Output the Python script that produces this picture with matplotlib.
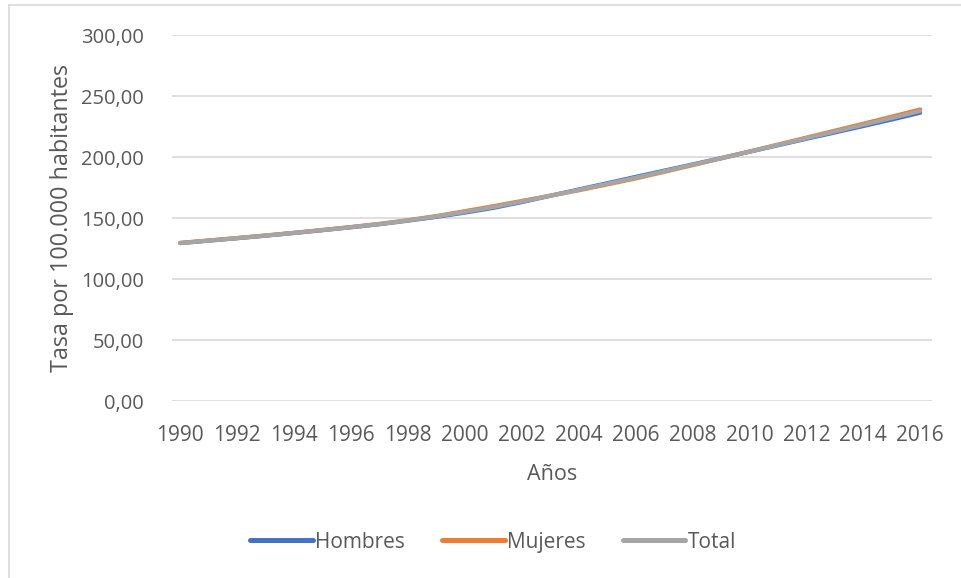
import matplotlib.pyplot as plt
from matplotlib.ticker import FuncFormatter, MultipleLocator

# tasa por 100.000 habitantes, 1990-2016
anios = list(range(1990, 2017))
hombres = [129.4, 131.4, 133.4, 135.5, 137.7, 140.0, 142.4, 144.9, 147.8, 150.9,
           154.4, 158.3, 163.0, 168.2, 173.4, 178.5, 183.7, 188.8, 193.9, 199.1,
           204.3, 209.6, 214.9, 220.1, 225.4, 230.7, 236.3]
mujeres = [129.6, 131.6, 133.6, 135.7, 137.9, 140.2, 142.6, 145.2, 148.2, 151.6,
           155.6, 159.7, 164.0, 168.3, 172.7, 177.5, 182.4, 187.8, 193.3, 198.8,
           204.5, 210.2, 215.9, 221.6, 227.3, 233.1, 239.0]
total = [129.5, 131.5, 133.5, 135.6, 137.8, 140.1, 142.5, 145.0, 148.0, 151.3,
         155.0, 159.0, 163.5, 168.2, 173.0, 178.0, 183.0, 188.3, 193.6, 199.0,
         204.4, 209.9, 215.4, 220.9, 226.4, 232.0, 237.7]

series = [("Hombres", hombres, "#4472C4"),
          ("Mujeres", mujeres, "#ED7D31"),
          ("Total", total, "#A5A5A5")]

plt.rcParams['font.family'] = ['Open Sans', 'DejaVu Sans']
txt = '#595959'

fig = plt.figure(figsize=(9.61, 5.78), dpi=100)
ax = fig.add_axes([0.179, 0.3062, 0.791, 0.6332])

for nombre, vals, color in series:
    ax.plot(anios, vals, color=color, lw=3.0, solid_capstyle='round', label=nombre)

ax.set_ylim(0, 300)
ax.set_xlim(1989.72, 2016.42)
ax.yaxis.set_major_locator(MultipleLocator(50))
ax.yaxis.set_major_formatter(FuncFormatter(lambda v, p: f"{v:.2f}".replace('.', ',')))
ax.set_xticks(anios[::2])
ax.grid(axis='y', color='#D9D9D9', lw=1.2)
ax.set_axisbelow(True)
for s in ax.spines.values():
    s.set_visible(False)
ax.tick_params(length=0, labelsize=14.5, colors=txt)
ax.tick_params(axis='x', labelsize=15, pad=17)
ax.tick_params(axis='y', pad=20)

ax.set_xlabel("Años", fontsize=15.5, color=txt, labelpad=13)
ax.set_ylabel("Tasa por 100.000 habitantes", fontsize=16.8, color=txt, labelpad=5)

leg = ax.legend(loc='center', bbox_to_anchor=(0.513, 0.062), bbox_transform=fig.transFigure,
                ncol=3, frameon=False, fontsize=15, handlelength=3.0, handletextpad=0.1,
                columnspacing=1.8)
for t in leg.get_texts():
    t.set_color(txt)
for h in leg.get_lines():
    h.set_linewidth(3.6)

# marco del gráfico
fig.add_artist(plt.Line2D([0.0094, 0.0094], [0, 0.9915], transform=fig.transFigure,
                          color='#D9D9D9', lw=1.2))
fig.add_artist(plt.Line2D([0.0094, 1.0], [0.9915, 0.9915], transform=fig.transFigure,
                          color='#D9D9D9', lw=1.2))

fig.savefig('out.png', dpi=100)
